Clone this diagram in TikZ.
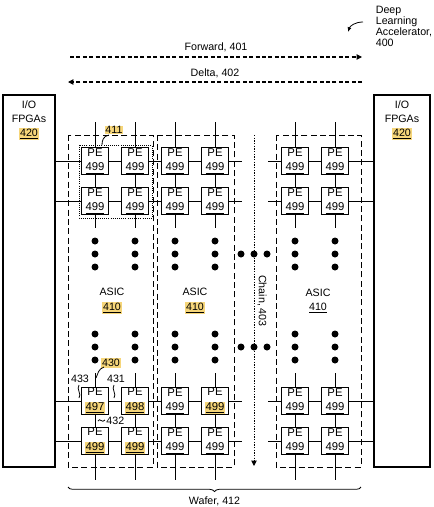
\documentclass[tikz,border=0pt]{standalone}
\usepackage{fontspec}
\setmainfont{Liberation Sans}
\usetikzlibrary{arrows.meta,decorations.pathreplacing}
\definecolor{hlyellow}{RGB}{246,214,122}
\newcommand{\plainno}[1]{\underline{#1}}
\newcommand{\hlno}[1]{{\setlength{\fboxsep}{0.6pt}\colorbox{hlyellow}{\underline{#1}}}}
\newcommand{\hltag}[1]{{\setlength{\fboxsep}{0.6pt}\colorbox{hlyellow}{#1}}}

\begin{document}
\begin{tikzpicture}[x=0.75pt,y=-0.75pt,line width=0.6pt,
font=\fontsize{8}{10}\selectfont,
pe/.style={draw,fill=white,rectangle,inner sep=0pt,minimum width=20.25pt,minimum height=20.25pt,align=center,line width=0.8pt,font=\fontsize{8.5}{11}\selectfont},
fpga/.style={draw,rectangle,inner sep=0pt,minimum height=279pt,line width=0.8pt},
asicbox/.style={dash pattern=on 4.5pt off 2.5pt,line width=0.6pt},
flow/.style={dash pattern=on 3pt off 1.8pt,line width=0.8pt,-{Triangle[length=4pt,width=4pt]}},
tag/.style={inner sep=0pt}]

\useasboundingbox (0,0) rectangle (434,507);

% title and flows
\node[anchor=north west,align=left,font=\fontsize{8}{8.3}\selectfont] (dla) at (371,1) {Deep\\Learning\\Accelerator,\\400};
\coordinate (dlaTail) at (363,22);
\coordinate (dlaTip) at (348,32);
\draw[-{Latex[length=3.5pt,width=3pt]}] (dlaTail) .. controls (355,22) and (350,26) .. (dlaTip);

\coordinate (fwdL) at (70,57);
\coordinate (fwdR) at (362,57);
\draw[flow] (fwdL) -- node[midway,yshift=7pt] {Forward, 401} (fwdR);
\coordinate (dltR) at (362,82);
\coordinate (dltL) at (68,82);
\draw[flow] (dltR) -- node[midway,yshift=6.5pt] {Delta, 402} (dltL);

% I/O FPGAs
\node[fpga,minimum width=39pt] (fpgaL) at (29,281) {};
\node[fpga,minimum width=42pt] (fpgaR) at (402,281) {};
\node[align=center,font=\fontsize{8}{10.5}\selectfont] (ioL) at (29,120) {I/O\\FPGAs\\\hlno{420}};
\node[align=center,font=\fontsize{8}{10.5}\selectfont] (ioR) at (402,120) {I/O\\FPGAs\\\hlno{420}};

% ASICs
\draw[asicbox] (68,135) rectangle (153,467);
\draw[asicbox] (157,135) rectangle (234,467);
\draw[asicbox] (276,135) rectangle (361,467);
\draw[densely dotted] (79,145) rectangle (152,218);
\node[align=center,font=\fontsize{8}{11}\selectfont] (asic1) at (112,301) {ASIC\\\hlno{410}};
\node[align=center,font=\fontsize{8}{11}\selectfont] (asic2) at (195,301) {ASIC\\\hlno{410}};
\node[align=center,font=\fontsize{8}{11}\selectfont] (asic3) at (318,301) {ASIC\\\plainno{410}};

% chain
\coordinate (chainTop) at (254,135);
\coordinate (chainEnd) at (254,466);
\draw[dash pattern=on 1pt off 1pt,line width=0.7pt,-{Triangle[length=4pt,width=4pt]}] (chainTop) -- (chainEnd);
\node[rotate=-90] (chainlbl) at (262,301) {Chain, 403};

% PEs
\foreach \c/\x in {1/95,2/135,3/175,4/215,5/295,6/335}{
  \node[pe] (pe\c1) at (\x,161) {PE\\\plainno{499}};
  \node[pe] (pe\c2) at (\x,201) {PE\\\plainno{499}};
}
\foreach \c/\x/\t in {1/95/\hlno{497},2/135/\hlno{498},3/175/\plainno{499},4/215/\hlno{499},5/295/\plainno{499},6/335/\plainno{499}}
  \node[pe] (pe\c3) at (\x,401) {PE\\\t};
\foreach \c/\x/\t in {1/95/\hlno{499},2/135/\hlno{499},3/175/\plainno{499},4/215/\plainno{499},5/295/\plainno{499},6/335/\plainno{499}}
  \node[pe] (pe\c4) at (\x,441) {PE\\\t};

% mesh links
\foreach \c in {1,...,6}{
  \draw (pe\c1.north) -- ++(0,-25);
  \draw (pe\c1) -- (pe\c2);
  \draw (pe\c2.south) -- ++(0,13);
  \draw (pe\c3.north) -- ++(0,-14);
  \draw (pe\c3) -- (pe\c4);
  \draw (pe\c4.south) -- ++(0,25);
}
\foreach \r in {1,...,4}{
  \draw (fpgaL.east |- pe1\r) -- (pe1\r) -- (pe2\r) -- (pe3\r) -- (pe4\r);
  \draw (pe4\r.east) -- ++(13,0);
  \draw (pe5\r.west) -- ++(-13,0);
  \draw (pe5\r) -- (pe6\r) -- (fpgaR.west |- pe6\r);
}

% ellipses
\foreach \x in {95,135,175,215,295,335}
  \foreach \y in {241,254,267,334,347,360}
    \fill (\x,\y) circle (3.5);
\foreach \x in {241,254,267}
  \foreach \y in {254,347}
    \fill (\x,\y) circle (3.5);

% reference tags
\node[tag] (t411) at (114,130) {\hltag{411}};
\draw (109,135) .. controls (103,136) and (102,141) .. (102,145);
\node[tag] (t430) at (111,363) {\hltag{430}};
\draw (104,367) .. controls (98,369) and (98,374) .. (96,378);
\node[tag] (t433) at (80,379) {433};
\draw (79,385) .. controls (76,389) and (82,394) .. (79,398);
\node[tag] (t431) at (116,379) {431};
\draw (114,385) .. controls (111,389) and (117,394) .. (114,398);
\node[tag,anchor=west] (t432) at (106,421) {432};
\draw (98,421) .. controls (100,417) and (102,424) .. (105,420);

% wafer
\coordinate (waferL) at (68,487);
\coordinate (waferR) at (361,487);
\draw[decorate,decoration={brace,mirror,amplitude=3.5pt}] (waferL) -- node[midway,yshift=-10.5pt] {Wafer, 412} (waferR);

\end{tikzpicture}
\end{document}
